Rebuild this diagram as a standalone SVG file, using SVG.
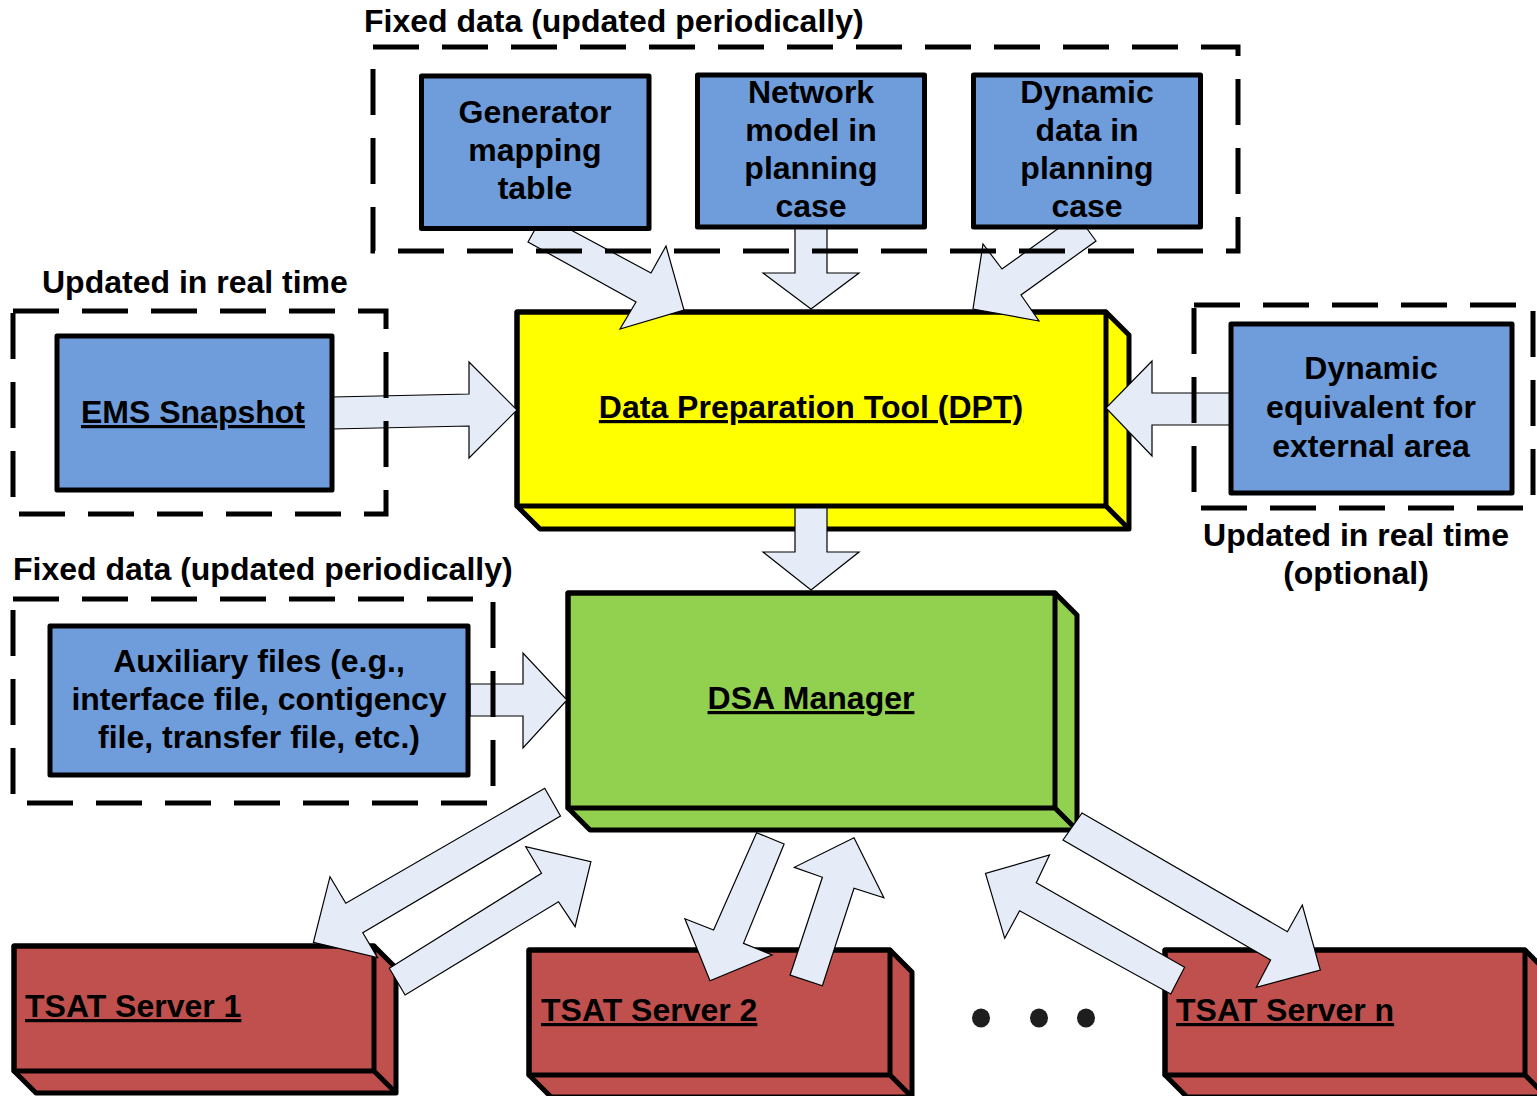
<svg xmlns="http://www.w3.org/2000/svg" width="1537" height="1096" viewBox="0 0 1537 1096">
<style>
.t{font-family:"Liberation Sans",Arial,sans-serif;font-weight:bold;font-size:32px;fill:#000}
.c{text-anchor:middle}
.u{text-decoration:underline}
.blue{fill:#6F9CDA;stroke:#000;stroke-width:5;stroke-linejoin:round}
.box3d{stroke:#000;stroke-width:5;stroke-linejoin:round}
.arr{fill:#E5ECF7;stroke:#000;stroke-width:1.2;stroke-linejoin:miter}
.dash{fill:none;stroke:#000;stroke-width:5;stroke-dasharray:46 23}
</style>
<rect width="1537" height="1096" fill="#fff"/>

<g id="dpt">
<path class="box3d" fill="#FFFF00" d="M517,312 H1106 L1129,335 V529 H540 L517,506 Z"/>
<path fill="none" stroke="#000" stroke-width="5" stroke-linejoin="round" d="M517,312 H1106 V506 H517 Z M1106,506 L1129,529"/>
<text class="t c u" x="811" y="418">Data Preparation Tool (DPT)</text>
</g>

<g id="dsa">
<path class="box3d" fill="#92D050" d="M568,593 H1055 L1077,615 V830 H590 L568,808 Z"/>
<path fill="none" stroke="#000" stroke-width="5" stroke-linejoin="round" d="M568,593 H1055 V808 H568 Z M1055,808 L1077,830"/>
<text class="t c u" x="811" y="709">DSA Manager</text>
</g>

<g id="tsat1">
<path class="box3d" fill="#C0504D" d="M14,946 H374 L396,968 V1093 H36 L14,1071 Z"/>
<path fill="none" stroke="#000" stroke-width="5" stroke-linejoin="round" d="M14,946 H374 V1071 H14 Z M374,1071 L396,1093"/>
</g>
<g id="tsat2">
<path class="box3d" fill="#C0504D" d="M529,950 H890 L912,972 V1097 H551 L529,1075 Z"/>
<path fill="none" stroke="#000" stroke-width="5" stroke-linejoin="round" d="M529,950 H890 V1075 H529 Z M890,1075 L912,1097"/>
</g>
<g id="tsatn">
<path class="box3d" fill="#C0504D" d="M1165,950 H1525 L1547,972 V1097 H1187 L1165,1075 Z"/>
<path fill="none" stroke="#000" stroke-width="5" stroke-linejoin="round" d="M1165,950 H1525 V1075 H1165 Z M1525,1075 L1547,1097"/>
</g>

<g id="connectors">
<polygon class="arr" points="543,215 651,273 666,246 684,310 620,329 636,302 528,242"/>
<polygon class="arr" points="795,226 827,226 827,273 859,273 811,309 763,273 795,273"/>
<polygon class="arr" points="1077,215 1096,241 1021,295 1039,321 973,309 983,244 1002,269"/>
<polygon class="arr" points="332,397 469,394 469,362 517,410 469,458 469,426 332,429"/>
<polygon class="arr" points="1230,393 1152,393 1152,361 1106,408 1152,456 1152,425 1230,425"/>
<polygon class="arr" points="795,508 827,508 827,552 859,552 811,590 763,552 795,552"/>
<polygon class="arr" points="470,684 523,684 523,653 567,700 523,748 523,716 470,716"/>
<polygon class="arr" points="544.7,788.3 560.5,816 362.8,932.7 377.5,957.7 313.4,942.3 330,876.7 345.8,903.3"/>
<polygon class="arr" points="389.3,968.3 541.5,873.3 525.7,846.7 590.9,861.7 575.1,926.7 558.5,901.7 405.1,995"/>
<polygon class="arr" points="756.6,832.7 784.1,844 743.5,943.3 772.1,955 710,980.7 684.9,918.7 713.6,930"/>
<polygon class="arr" points="790.1,975 822.4,877.3 794.3,867.3 854,837.7 883.9,897.7 854,888.3 822.4,985.7"/>
<polygon class="arr" points="1184.6,967.3 1036.3,882.7 1049.5,855 985.5,873.3 1004.7,938.3 1019.6,910.7 1170.8,994"/>
<polygon class="arr" points="1082,813 1287.4,931.7 1302.3,905 1320.3,970 1256.3,987.3 1270.6,960 1063,840"/>
</g>

<g id="groups">
<rect class="dash" x="373" y="47" width="865" height="204"/>
<rect class="dash" x="13" y="311" width="373" height="203"/>
<rect class="dash" x="1194" y="305" width="339" height="203"/>
<rect class="dash" x="13" y="599" width="480" height="204"/>
</g>

<g id="gen">
<rect class="blue" x="421.5" y="76" width="227.5" height="152.5"/>
<text class="t c" x="535" y="123">Generator</text>
<text class="t c" x="535" y="161">mapping</text>
<text class="t c" x="535" y="199">table</text>
</g>
<g id="net">
<rect class="blue" x="697.5" y="75" width="227" height="152"/>
<text class="t c" x="811" y="103">Network</text>
<text class="t c" x="811" y="141">model in</text>
<text class="t c" x="811" y="179">planning</text>
<text class="t c" x="811" y="217">case</text>
</g>
<g id="dyn">
<rect class="blue" x="973.5" y="75" width="227" height="152"/>
<text class="t c" x="1087" y="103">Dynamic</text>
<text class="t c" x="1087" y="141">data in</text>
<text class="t c" x="1087" y="179">planning</text>
<text class="t c" x="1087" y="217">case</text>
</g>
<g id="ems">
<rect class="blue" x="57" y="336" width="275" height="154"/>
<text class="t c u" x="193" y="423">EMS Snapshot</text>
</g>
<g id="dyneq">
<rect class="blue" x="1231" y="324" width="281" height="169"/>
<text class="t c" x="1371" y="379">Dynamic</text>
<text class="t c" x="1371" y="418">equivalent for</text>
<text class="t c" x="1371" y="457">external area</text>
</g>
<g id="aux">
<rect class="blue" x="50" y="626" width="418" height="149"/>
<text class="t c" x="259" y="672">Auxiliary files (e.g.,</text>
<text class="t c" x="259" y="710">interface file, contigency</text>
<text class="t c" x="259" y="748">file, transfer file, etc.)</text>
</g>

<g id="labels">
<text class="t" x="364" y="32">Fixed data (updated periodically)</text>
<text class="t" x="42" y="293">Updated in real time</text>
<text class="t" x="13" y="580">Fixed data (updated periodically)</text>
<text class="t c" x="1356" y="546">Updated in real time</text>
<text class="t c" x="1356" y="584">(optional)</text>
<text class="t u" x="25" y="1017">TSAT Server 1</text>
<text class="t u" x="541" y="1021">TSAT Server 2</text>
<text class="t u" x="1176" y="1021">TSAT Server n</text>
</g>

<g id="dots" fill="#1E1E1E">
<ellipse cx="981" cy="1018" rx="9" ry="9.5"/>
<ellipse cx="1039" cy="1018" rx="9" ry="9.5"/>
<ellipse cx="1086" cy="1018" rx="9" ry="9.5"/>
</g>
</svg>
